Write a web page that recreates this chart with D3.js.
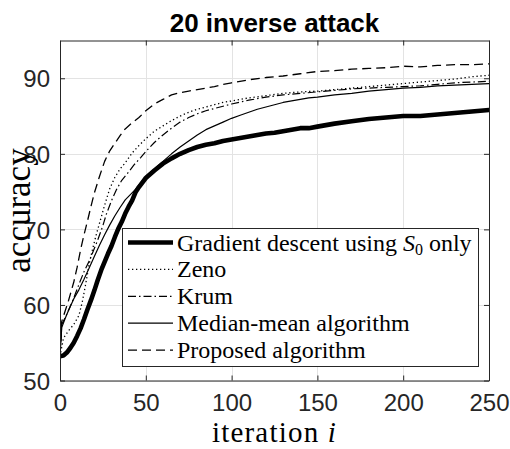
<!DOCTYPE html>
<html>
<head>
<meta charset="utf-8">
<script src="https://cdn.jsdelivr.net/npm/d3@7"></script>
<style>
  body { margin: 0; background: #fff; }
  svg { display: block; }
</style>
</head>
<body>
<svg id="chart" width="510" height="449"></svg>
<script>
// ---- data ----
const chartTitle = "20 inverse attack";
const xTicks = [0, 50, 100, 150, 200, 250];
const yTicks = [50, 60, 70, 80, 90];
const seriesNames = ["Gradient descent using S0 only", "Zeno", "Krum", "Median-mean algorithm", "Proposed algorithm"];

// Gradient descent using S0 only
const gdIter = [0,2,4,6,8,10,12,14,16,18,20,22,24,26,28,30,32,34,36,38,40,42,44,46,48,50,55,60,65,70,75,80,85,90,95,100,105,110,115,120,125,130,135,140,145,150,160,170,180,190,200,210,220,230,240,250];
const gdAcc  = [53.2,53.3,53.7,54.3,55.0,55.9,56.9,58.1,59.4,60.6,61.9,63.3,64.6,65.7,66.8,67.8,69.0,70.1,71.0,72.1,73.0,73.8,74.9,75.6,76.2,76.8,77.8,78.7,79.4,80.0,80.5,80.9,81.2,81.4,81.7,81.9,82.1,82.3,82.5,82.7,82.8,83.0,83.2,83.4,83.4,83.6,84.0,84.3,84.6,84.8,85.0,85.0,85.2,85.4,85.6,85.8];

// Zeno
const zenoIter = [0,2,5,8,11,13,15,17,19,21,24,26,29,32,35,38,42,46,50,55,60,65,70,75,80,85,90,95,100,110,120,130,140,150,160,170,180,190,200,210,220,230,240,250];
const zenoAcc  = [53.2,55.6,56.6,57.4,58.6,60.4,62.8,65.4,67.4,69.2,71.6,73.2,75.4,76.9,78.0,78.8,80.1,81.1,82.0,83.0,83.7,84.4,85.0,85.5,85.9,86.2,86.5,86.8,87.0,87.4,87.7,88.0,88.2,88.3,88.5,88.7,88.9,89.1,89.3,89.5,89.7,89.9,90.2,90.4];

// Krum
const krumIter = [0,1,3,5,8,11,14,17,19,22,25,27,30,33,36,40,43,47,50,55,60,65,70,75,80,85,90,95,100,110,120,130,140,150,160,170,180,190,200,210,220,230,240,250];
const krumAcc  = [53.2,57.4,58.3,59.3,60.9,62.7,64.4,65.8,66.9,68.6,70.5,72.0,73.8,75.3,76.5,77.6,78.5,79.5,80.3,81.5,82.5,83.4,84.2,84.8,85.3,85.7,86.0,86.3,86.6,87.1,87.5,87.8,88.0,88.2,88.4,88.6,88.7,88.8,88.9,89.0,89.2,89.4,89.5,89.6];

// Median-mean algorithm
const medIter = [0,1,3,5,8,11,14,17,20,23,26,29,32,35,38,41,44,47,50,55,60,65,70,75,80,85,90,95,100,105,110,115,120,125,130,135,140,145,150,160,170,180,190,200,210,220,230,240,250];
const medAcc  = [53.2,57.0,58.2,59.3,60.8,62.0,63.4,64.9,66.4,67.9,69.3,70.6,71.8,72.9,73.9,74.6,75.3,76.2,77.0,78.0,79.0,80.0,80.9,81.7,82.5,83.2,83.7,84.2,84.7,85.1,85.5,85.9,86.2,86.5,86.8,87.0,87.2,87.4,87.5,87.8,88.0,88.3,88.5,88.7,88.8,89.0,89.1,89.2,89.3];

// Proposed algorithm
const propIter = [0,1,3,5,8,10,12,14,16,18,20,23,26,29,32,35,38,42,46,50,55,60,65,70,75,80,85,90,95,100,110,120,130,140,150,160,170,180,190,200,210,220,230,240,250];
const propAcc  = [53.2,57.8,59.2,60.6,63.0,65.0,67.3,69.3,71.1,73.0,74.8,77.0,79.0,80.4,81.4,82.4,83.3,84.1,84.8,85.7,86.6,87.2,87.8,88.1,88.3,88.5,88.7,88.9,89.2,89.4,89.8,90.1,90.3,90.6,90.9,91.0,91.2,91.3,91.4,91.6,91.5,91.7,91.8,91.8,91.9];

// ---- layout ----
const plot = { left: 60, right: 489, top: 40.5, bottom: 380.5 };
const axisColor = "#262626";
const gridColor = "#e3e3e3";
const sans = "'Liberation Sans', Arial, Helvetica, sans-serif";
const serif = "'Liberation Serif', 'Times New Roman', serif";

const svg = d3.select("#chart");

const x = d3.scaleLinear().domain([0, 250]).range([plot.left, plot.right]);
const y = d3.scaleLinear().domain([50, 95]).range([plot.bottom, plot.top]);

// white plot background
svg.append("rect")
  .attr("x", plot.left).attr("y", plot.top)
  .attr("width", plot.right - plot.left).attr("height", plot.bottom - plot.top)
  .attr("fill", "#fff");

// grid
const grid = svg.append("g").attr("stroke", gridColor).attr("stroke-width", 1);
grid.selectAll("line.gx").data(xTicks).join("line")
  .attr("x1", d => Math.round(x(d)) + 0.5).attr("x2", d => Math.round(x(d)) + 0.5)
  .attr("y1", plot.top).attr("y2", plot.bottom);
grid.selectAll("line.gy").data(yTicks).join("line")
  .attr("y1", d => Math.round(y(d)) + 0.5).attr("y2", d => Math.round(y(d)) + 0.5)
  .attr("x1", plot.left).attr("x2", plot.right);

// series
const lineStyles = [
  { width: 4.6, dash: null },
  { width: 1.3, dash: "1.3,2.7" },
  { width: 1.2, dash: "8,3,1.5,3" },
  { width: 1.2, dash: null },
  { width: 1.3, dash: "9,5" }
];
const series = [
  { name: seriesNames[0], iter: gdIter, acc: gdAcc },
  { name: seriesNames[1], iter: zenoIter, acc: zenoAcc },
  { name: seriesNames[2], iter: krumIter, acc: krumAcc },
  { name: seriesNames[3], iter: medIter, acc: medAcc },
  { name: seriesNames[4], iter: propIter, acc: propAcc }
].map((s, i) => Object.assign(s, lineStyles[i], {
  points: s.iter.map((v, k) => [v, s.acc[k]])
}));

svg.append("clipPath").attr("id", "plotClip")
  .append("rect")
  .attr("x", plot.left).attr("y", plot.top)
  .attr("width", plot.right - plot.left).attr("height", plot.bottom - plot.top);

const line = d3.line().x(d => x(d[0])).y(d => y(d[1]));

svg.append("g").attr("clip-path", "url(#plotClip)")
  .selectAll("path").data(series).join("path")
  .attr("d", d => line(d.points))
  .attr("fill", "none")
  .attr("stroke", "#000")
  .attr("stroke-width", d => d.width)
  .attr("stroke-dasharray", d => d.dash)
  .attr("stroke-linejoin", "round")
  .attr("stroke-linecap", d => d.dash ? "butt" : "round");

// axes (ticks point inward on all four sides)
function styleAxis(g) {
  g.select(".domain").attr("stroke", axisColor).attr("stroke-width", 1);
  g.selectAll(".tick line").attr("stroke", axisColor);
  g.selectAll("text").attr("fill", axisColor).attr("font-family", sans).attr("font-size", 24);
}

svg.append("g").attr("transform", `translate(0,${plot.bottom})`)
  .call(d3.axisBottom(x).tickValues(xTicks).tickSizeInner(-5).tickSizeOuter(0).tickPadding(0))
  .call(styleAxis)
  .call(g => g.selectAll("text").attr("y", 0).attr("dy", 30));

svg.append("g").attr("transform", `translate(0,${plot.top})`)
  .call(d3.axisTop(x).tickValues(xTicks).tickSizeInner(-5).tickSizeOuter(0).tickFormat(""))
  .call(styleAxis);

svg.append("g").attr("transform", `translate(${plot.left},0)`)
  .call(d3.axisLeft(y).tickValues(yTicks).tickSizeInner(-5).tickSizeOuter(0).tickPadding(10))
  .call(styleAxis)
  .call(g => g.selectAll("text").attr("dy", "0.36em"));

svg.append("g").attr("transform", `translate(${plot.right},0)`)
  .call(d3.axisRight(y).tickValues(yTicks).tickSizeInner(-5).tickSizeOuter(0).tickFormat(""))
  .call(styleAxis);

// title
svg.append("text")
  .attr("x", (plot.left + plot.right) / 2).attr("y", 32)
  .attr("text-anchor", "middle")
  .attr("font-family", sans).attr("font-weight", "bold").attr("font-size", 26)
  .attr("fill", "#000")
  .text(chartTitle);

// axis labels
const xl = svg.append("text")
  .attr("x", (plot.left + plot.right) / 2).attr("y", 442)
  .attr("text-anchor", "middle")
  .attr("font-family", serif).attr("font-size", 29).attr("fill", "#000")
  .attr("letter-spacing", 1.2);
xl.append("tspan").text("iteration ");
xl.append("tspan").attr("font-style", "italic").text("i");

svg.append("text")
  .attr("transform", `translate(30,${(plot.top + plot.bottom) / 2}) rotate(-90)`)
  .attr("text-anchor", "middle")
  .attr("font-family", serif).attr("font-size", 35).attr("fill", "#000")
  .text("accuracy");

// legend
const legend = { left: 122.5, top: 228.5, right: 478.5, bottom: 366.5, rowTop: 242.5, rowStep: 26.9 };
const lg = svg.append("g");
lg.append("rect")
  .attr("x", legend.left).attr("y", legend.top)
  .attr("width", legend.right - legend.left).attr("height", legend.bottom - legend.top)
  .attr("fill", "#fff").attr("stroke", axisColor).attr("stroke-width", 1);

const rows = lg.selectAll("g.row").data(series).join("g")
  .attr("class", "row")
  .attr("transform", (d, i) => `translate(0,${legend.rowTop + i * legend.rowStep})`);

rows.append("line")
  .attr("x1", 128).attr("x2", 173).attr("y1", 0).attr("y2", 0)
  .attr("stroke", "#000")
  .attr("stroke-width", d => d.width)
  .attr("stroke-dasharray", d => d.dash);

rows.append("text")
  .attr("x", 177).attr("y", 8)
  .attr("font-family", serif).attr("font-size", 24).attr("fill", "#000")
  .each(function (d, i) {
    const t = d3.select(this);
    if (i === 0) {
      t.append("tspan").text("Gradient descent using ");
      t.append("tspan").attr("font-style", "italic").text("S");
      t.append("tspan").attr("font-size", 16).attr("dy", 4).text("0");
      t.append("tspan").attr("dy", -4).text(" only");
    } else {
      t.text(d.name);
    }
  });
</script>
</body>
</html>
